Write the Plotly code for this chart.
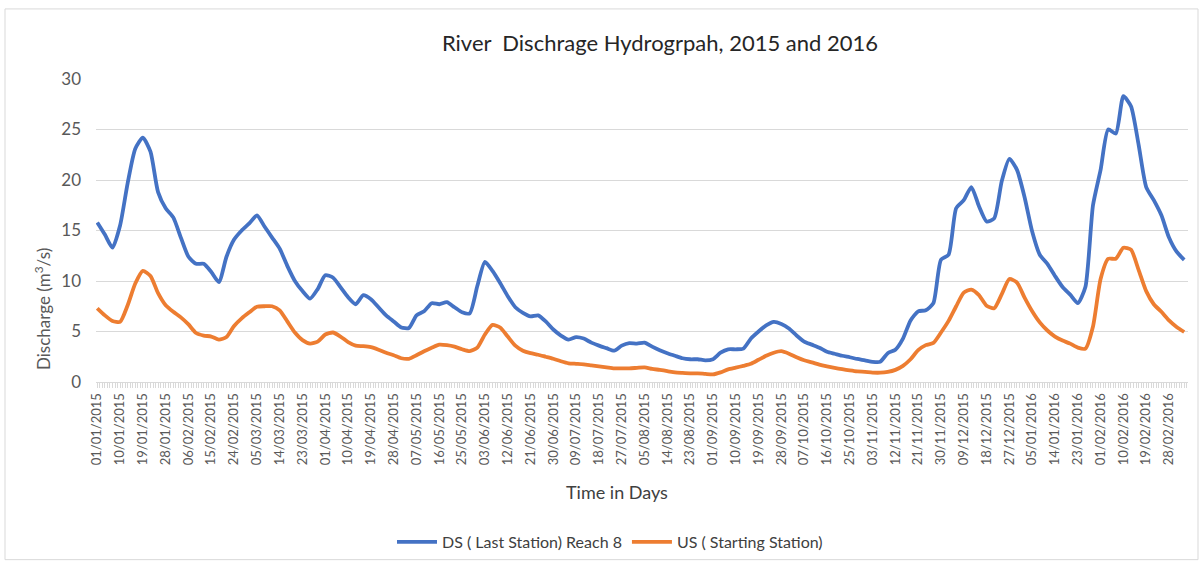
import pandas as pd
import plotly.graph_objects as go

# Daily discharge, sampled every third day from 01/01/2015
START_DATE = "2015-01-01"
STEP_DAYS = 3

ds_last_station = [
    15.8, 14.6, 13.3, 15.5, 19.7, 23.1, 24.2, 22.8, 18.8, 17.2,
    16.3, 14.3, 12.4, 11.7, 11.7, 10.9, 9.9, 12.4, 14.1, 15.0,
    15.7, 16.5, 15.4, 14.3, 13.2, 11.5, 10.0, 9.0, 8.25, 9.2,
    10.57, 10.35, 9.4, 8.4, 7.7, 8.6, 8.2, 7.4, 6.6, 6.0,
    5.4, 5.35, 6.6, 7.0, 7.8, 7.7, 7.9, 7.4, 6.9, 6.8,
    9.5, 11.9, 11.0, 9.8, 8.5, 7.4, 6.85, 6.5, 6.6, 6.0,
    5.2, 4.6, 4.2, 4.45, 4.3, 3.9, 3.6, 3.35, 3.1, 3.6,
    3.85, 3.8, 3.9, 3.5, 3.15, 2.85, 2.6, 2.35, 2.25, 2.25,
    2.15, 2.25, 2.9, 3.24, 3.24, 3.3, 4.3, 5.0, 5.6, 5.95,
    5.75, 5.3, 4.6, 4.0, 3.7, 3.4, 3.0, 2.8, 2.6, 2.45,
    2.28, 2.15, 2.0, 2.0, 2.85, 3.2, 4.3, 6.1, 7.0, 7.1,
    7.8, 12.1, 12.6, 17.2, 18.0, 19.3, 17.4, 15.9, 16.2, 19.9,
    22.1, 21.0, 18.3, 14.9, 12.6, 11.7, 10.5, 9.4, 8.65, 7.8,
    9.4, 17.5, 21.0, 25.0, 24.6, 28.3, 27.3, 23.5, 19.3, 18.0,
    16.5, 14.3, 12.9, 12.1,
]

us_starting_station = [
    7.3, 6.6, 6.05, 5.95, 7.6, 9.75, 11.0, 10.5, 8.8, 7.6,
    6.95, 6.4, 5.7, 4.85, 4.6, 4.5, 4.2, 4.45, 5.55, 6.3,
    6.9, 7.45, 7.5, 7.5, 7.1, 6.0, 4.9, 4.15, 3.8, 4.0,
    4.7, 4.9, 4.5, 3.95, 3.6, 3.55, 3.45, 3.2, 2.9, 2.65,
    2.35, 2.3, 2.65, 3.05, 3.4, 3.7, 3.65, 3.5, 3.24, 3.05,
    3.4, 4.7, 5.65, 5.4, 4.5, 3.6, 3.1, 2.85, 2.7, 2.5,
    2.3, 2.05, 1.85, 1.8, 1.75, 1.65, 1.55, 1.45, 1.35, 1.35,
    1.35, 1.4, 1.45, 1.3, 1.2, 1.08, 0.95, 0.9, 0.86, 0.86,
    0.8, 0.75, 0.95, 1.25, 1.42, 1.6, 1.8, 2.2, 2.6, 2.9,
    3.05, 2.8, 2.45, 2.15, 1.95, 1.72, 1.55, 1.4, 1.27, 1.15,
    1.05, 1.0, 0.93, 0.92, 1.0, 1.2, 1.6, 2.25, 3.15, 3.65,
    3.87, 4.9, 6.05, 7.5, 8.85, 9.15, 8.6, 7.55, 7.3, 8.7,
    10.2, 9.85, 8.35, 7.0, 5.9, 5.1, 4.5, 4.1, 3.8, 3.4,
    3.3, 5.5, 10.2, 12.2, 12.2, 13.3, 13.1, 11.1, 9.0, 7.7,
    6.95, 6.1, 5.45, 4.95,
]

# Axis labels every nine days
TICK_START = "2015-01-01"
TICK_END = "2016-02-28"
TICK_EVERY = "9D"

assert len(ds_last_station) == len(us_starting_station)
dates = pd.date_range(START_DATE, periods=len(ds_last_station), freq=f"{STEP_DAYS}D")
tick_dates = pd.date_range(TICK_START, TICK_END, freq=TICK_EVERY)

FONT = "Lato, 'Open Sans', sans-serif"
GRID = "#d9d9d9"

fig = go.Figure()
fig.add_trace(go.Scatter(
    x=dates, y=ds_last_station, mode="lines",
    name="DS ( Last Station) Reach 8",
    line=dict(color="#4472C4", width=3.8, shape="spline", smoothing=0.6),
))
fig.add_trace(go.Scatter(
    x=dates, y=us_starting_station, mode="lines",
    name="US ( Starting Station)",
    line=dict(color="#ED7D31", width=3.8, shape="spline", smoothing=0.6),
))

W, H = 1203, 571
L, R, T, B = 96, 15, 79, 185
pw, ph = W - L - R, H - T - B


def px_x(p):
    return (p - L) / pw


def px_y(p):
    return (H - B - p) / ph


fig.update_layout(
    width=W, height=H,
    margin=dict(l=L, r=R, t=T, b=B),
    paper_bgcolor="white", plot_bgcolor="white",
    font=dict(family=FONT, color="#595959"),
    title=dict(
        text="River\u00a0 Dischrage Hydrogrpah, 2015 and 2016",
        font=dict(size=22, color="#262626", family=FONT),
        xref="paper", x=px_x(660), xanchor="center",
        yref="container", y=1 - 43 / H, yanchor="middle",
    ),
    showlegend=True,
    legend=dict(
        orientation="h", xref="paper", yref="paper",
        x=px_x(610), xanchor="center", y=px_y(548), yanchor="middle",
        font=dict(size=16, color="#404040", family=FONT),
        itemwidth=40,
    ),
    xaxis=dict(
        type="date",
        range=[dates[0] - pd.Timedelta(hours=12), dates[-1] + pd.Timedelta(hours=36)],
        tickvals=tick_dates,
        tickformat="%d/%m/%Y",
        tickangle=-90,
        tickfont=dict(size=13, color="#595959", family=FONT),
        showgrid=False,
        showline=True, linecolor=GRID, linewidth=1,
        ticks="outside", ticklen=5, tickcolor=GRID,
        minor=dict(ticks="outside", ticklen=5, tickcolor=GRID,
                   dtick=86400000, tick0=START_DATE, showgrid=False),
        zeroline=False,
    ),
    yaxis=dict(
        range=[0, 30], dtick=5,
        tickfont=dict(size=17, color="#595959", family=FONT),
        showgrid=True, gridcolor=GRID, gridwidth=1,
        zeroline=False, showline=False,
        ticks="", ticklabelstandoff=14,
    ),
    annotations=[
        dict(text="Discharge (m<sup>3</sup>/s)", textangle=-90,
             xref="paper", yref="paper", x=px_x(43), y=px_y(312),
             xanchor="center", yanchor="middle", showarrow=False,
             font=dict(size=17, color="#595959", family=FONT)),
        dict(text="Time in Days",
             xref="paper", yref="paper", x=px_x(617), y=px_y(497),
             xanchor="center", yanchor="middle", showarrow=False,
             font=dict(size=18, color="#404040", family=FONT)),
    ],
    shapes=[
        dict(type="rect", xref="paper", yref="paper",
             x0=px_x(5), x1=px_x(1198), y0=px_y(566), y1=px_y(8),
             line=dict(color=GRID, width=1), fillcolor="rgba(0,0,0,0)",
             layer="below"),
    ],
)

fig.write_html("out.html")
